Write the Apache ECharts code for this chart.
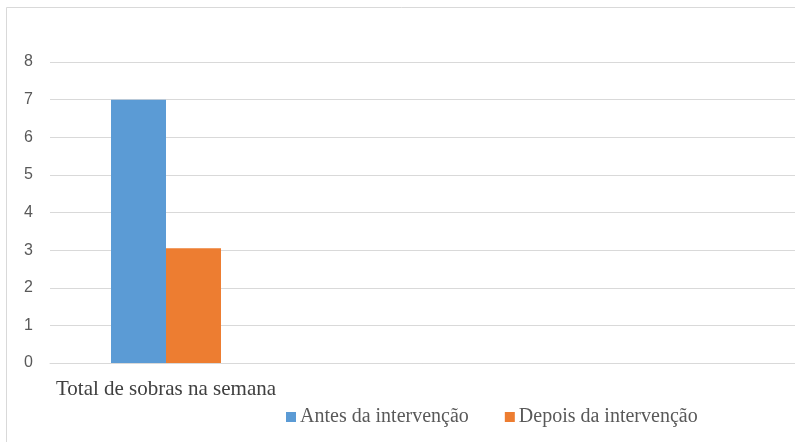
<!DOCTYPE html>
<html>
<head>
<meta charset="utf-8">
<script src="https://cdn.jsdelivr.net/npm/echarts@6/dist/echarts.min.js"></script>
<style>
html,body{margin:0;padding:0;background:#fff;}
#chart{width:795px;height:442px;}
</style>
</head>
<body>
<div id="chart"></div>
<script>
var categories = ["Total de sobras na semana", "", "", ""];
var seriesNames = ["Antes da intervenção", "Depois da intervenção"];
var antes = [7, null, null, null];
var depois = [3.05, null, null, null];
var yTicks = [0, 1, 2, 3, 4, 5, 6, 7, 8];

var chart = echarts.init(document.getElementById('chart'), null, {renderer: 'canvas'});
chart.setOption({
  animation: false,
  backgroundColor: '#ffffff',
  graphic: [{
    type: 'rect',
    shape: {x: 6.5, y: 7.5, width: 900, height: 500},
    style: {fill: 'none', stroke: '#d9d9d9', lineWidth: 1},
    z: 0
  }],
  grid: {left: 50, width: 928, top: 62, bottom: 79, outerBoundsMode: 'none', containLabel: false},
  legend: {
    data: seriesNames,
    left: 281,
    top: 402,
    icon: 'rect',
    itemWidth: 10,
    itemHeight: 10,
    itemGap: 36,
    textStyle: {fontFamily: 'Liberation Serif', fontSize: 20, color: '#595959', padding: [0, 0, 0, -1]}
  },
  xAxis: {
    type: 'category',
    data: categories,
    axisLine: {lineStyle: {color: '#d9d9d9', width: 1}},
    axisTick: {show: false},
    axisLabel: {fontFamily: 'Liberation Serif', fontSize: 21, color: '#404040', margin: 16, interval: 0}
  },
  yAxis: {
    type: 'value',
    min: yTicks[0],
    max: yTicks[yTicks.length - 1],
    interval: 1,
    axisLine: {show: false},
    axisTick: {show: false},
    splitLine: {lineStyle: {color: '#d9d9d9', width: 1}},
    axisLabel: {fontFamily: 'Liberation Sans', fontSize: 16, color: '#595959', margin: 17}
  },
  series: [
    {name: seriesNames[0], type: 'bar', data: antes, barWidth: 55, barGap: '0%', itemStyle: {color: '#5b9bd5'}},
    {name: seriesNames[1], type: 'bar', data: depois, barWidth: 55, barGap: '0%', itemStyle: {color: '#ed7d31'}}
  ]
});
</script>
</body>
</html>
